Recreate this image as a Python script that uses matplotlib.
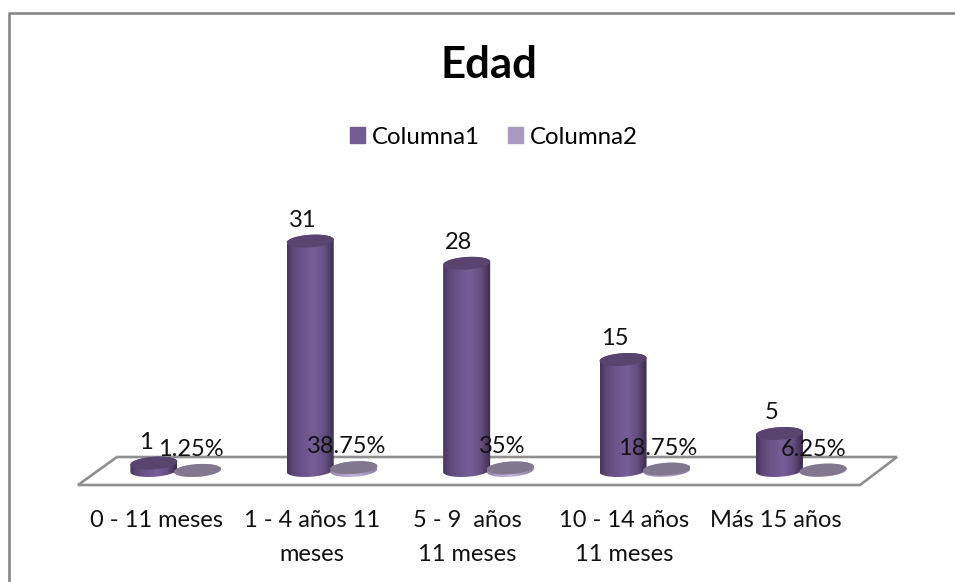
import numpy as np
import matplotlib
matplotlib.use("Agg")
import matplotlib.pyplot as plt
from matplotlib.colors import LinearSegmentedColormap
from matplotlib.lines import Line2D
from matplotlib.patches import Patch, PathPatch, Polygon
from matplotlib.path import Path

categorias = ["0 - 11 meses", "1 - 4 años 11\nmeses", "5 - 9  años\n11 meses", "10 - 14 años\n11 meses", "Más 15 años"]
columna1 = [1, 31, 28, 15, 5]
columna2 = [0.0125, 0.3875, 0.35, 0.1875, 0.0625]
etiquetas2 = ["1.25%", "38.75%", "35%", "18.75%", "6.25%"]

W, H = 955, 582
plt.rcParams["font.family"] = ["Lato", "DejaVu Sans"]

fig = plt.figure(figsize=(W / 100, H / 100), dpi=100, facecolor="white")

# area del grafico en pixeles de la imagen
left, right, bottom, top = 78, 860, 485, 205
cero, px_y = 470.5, 7.4
px_x = (right - left) / 5
ax = fig.add_axes([left / W, 1 - bottom / H, (right - left) / W, (bottom - top) / H])
ax.patch.set_alpha(0)
xlim = (-0.5, 4.5)
ylim = ((cero - bottom) / px_y, (cero - top) / px_y)

cmap1 = LinearSegmentedColormap.from_list("c1", [(0, "#463659"), (0.12, "#5c4776"), (0.3, "#6b5289"),
                                                 (0.58, "#785e99"), (0.8, "#644d80"), (1, "#3a2b4d")])
cmap2 = LinearSegmentedColormap.from_list("c2", [(0, "#9585ad"), (0.5, "#c4b5dc"), (1, "#8d7da6")])
a, b, tilt = 23.5 / px_x, 6.3 / px_y, 1.5 / px_y


def cilindro(cx, altura, cmap, color_tapa):
    t = np.linspace(0, np.pi, 60)
    # lado: arco inferior de la base y arco superior de la tapa
    xs = cx - a * np.cos(t)
    ys = -b * np.sin(t) - tilt * np.cos(t)
    xt = cx + a * np.cos(t)
    yt = altura + b * np.sin(t) + tilt * np.cos(t)
    verts = np.vstack([np.column_stack([xs, ys]), np.column_stack([xt, yt]), [[xs[0], ys[0]]]])
    codes = [Path.MOVETO] + [Path.LINETO] * (len(verts) - 2) + [Path.CLOSEPOLY]
    lado = PathPatch(Path(verts, codes), facecolor="none", edgecolor="none", zorder=3)
    ax.add_patch(lado)
    grad = np.linspace(0, 1, 128).reshape(1, -1)
    im = ax.imshow(grad, cmap=cmap, extent=(cx - a, cx + a, -b - tilt, altura + b + tilt),
                   aspect="auto", zorder=3, interpolation="bilinear")
    im.set_clip_path(lado)
    t = np.linspace(0, 2 * np.pi, 120)
    ax.fill(cx + a * np.cos(t), altura + b * np.sin(t) + tilt * np.cos(t), color=color_tapa, lw=0, zorder=4)


# piso
gris = "#8f8f8f"
piso = Polygon([(left / W, 1 - bottom / H), (117 / W, 1 - 457 / H), (897 / W, 1 - 457 / H), (right / W, 1 - bottom / H)],
               closed=True, transform=fig.transFigure, facecolor="white", edgecolor=gris, lw=1.9, zorder=-1)
fig.add_artist(piso)

# marco: solo arriba y a la izquierda
fig.add_artist(Line2D([9 / W, 9 / W, 1], [0, 1 - 13 / H, 1 - 13 / H], color="#868686", lw=1.9, zorder=-1))

# pequeños ajustes en pixeles de etiquetas
ajuste_eje = [0, -1, -2, -1, -6]
ajuste_pct = [1, 1, 0, -1, -2]

indices = np.arange(len(categorias))
for i in indices:
    cilindro(i - 0.015, columna1[i], cmap1, "#59446f")
    cilindro(i + 0.264, columna2[i], cmap2, "#82778f")
    ax.annotate(str(columna1[i]), (i - 0.015, columna1[i]), xytext=(-8 / 1.389, 21 / 1.389),
                textcoords="offset points", ha="center", va="center", fontsize=17, color="#111111", zorder=6)
    ax.annotate(etiquetas2[i], (i + 0.264, columna2[i]), xytext=((ajuste_pct[i] - 8) / 1.389, 21 / 1.389),
                textcoords="offset points", ha="center", va="center", fontsize=17, color="#111111", zorder=6)

ax.set_xlim(xlim)
ax.set_ylim(ylim)
ax.set_xticks(indices + np.array(ajuste_eje) / px_x)
ax.set_xticklabels(categorias, fontsize=17, color="#111111", linespacing=1.75)
ax.tick_params(axis="x", length=0, pad=18)
ax.set_yticks([])
for s in ax.spines.values():
    s.set_visible(False)

fig.text(489 / W, 1 - 65 / H, "Edad", ha="center", va="center", fontsize=31.5, fontweight="bold", color="black")
fig.legend(handles=[Patch(color="#745a93", label="Columna1"), Patch(color="#a99abd", label="Columna2")],
           loc="center", bbox_to_anchor=(494 / W, 1 - 137 / H), ncol=2, frameon=False, fontsize=17.3,
           handlelength=0.62, handleheight=0.62, handletextpad=0.3, columnspacing=1.15)

fig.savefig("out.png", dpi=100)
